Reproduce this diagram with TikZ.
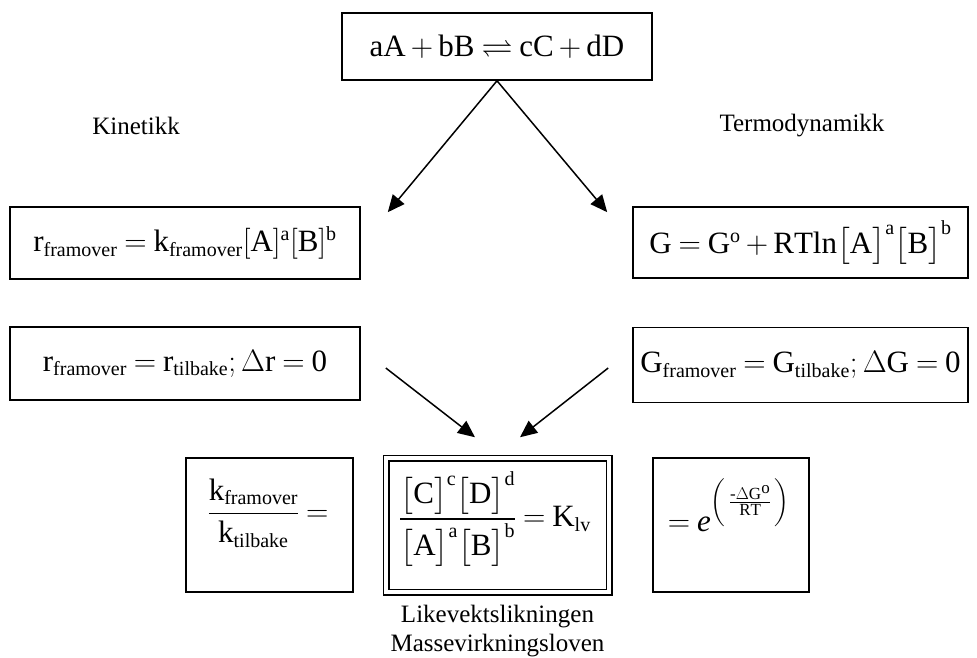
\RequirePackage{fix-cm}
\documentclass[tikz,border=0pt]{standalone}
\usepackage{amsmath,amssymb}
\usepackage{fontspec}
\setmainfont{Liberation Serif}
\usetikzlibrary{arrows.meta,calc}
\DeclareMathSizes{31}{31}{20}{17}
\newcommand\eqfont{\fontsize{31}{37}\selectfont
  \thickmuskip=4mu\relax\medmuskip=3mu\relax}

\begin{document}
\begin{tikzpicture}[x=1pt,y=-1pt,
  eqbox/.style={draw,line width=1.6pt,inner sep=0pt,font=\eqfont},
  eq/.style={inner sep=0pt,font=\eqfont},
  lbl/.style={inner sep=0pt,font=\fontsize{25}{29}\selectfont},
  arr/.style={line width=1.5pt,-{Triangle[length=17pt,width=15pt]}}]
  \useasboundingbox (0,0) rectangle (977,658);

  % reaksjonen
  \node[eqbox,minimum width=310pt,minimum height=67pt] (reaksjon) at (497,46.5)
    {$\mathrm{aA}+\mathrm{bB}\rightleftharpoons\mathrm{cC}+\mathrm{dD}$};
  \node[lbl] (kinetikk) at (136,126) {Kinetikk};
  \node[lbl] (termo) at (802,126) {Termodynamikk};

  % kinetikk
  \node[eqbox,minimum width=350pt,minimum height=72pt] (rate1) at (185,243)
    {$\mathrm{r}_{\mathrm{framover}}=\mathrm{k}_{\mathrm{framover}}[\mathrm{A}]^{\mathrm{a}}[\mathrm{B}]^{\mathrm{b}}$};
  \node[eqbox,minimum width=350pt,minimum height=73pt] (rate2) at (185,363.5)
    {$\mathrm{r}_{\mathrm{framover}}=\mathrm{r}_{\mathrm{tilbake}}\mathrm{;}\,\Delta\mathrm{r}=\mathrm{0}$\hspace{18pt}};

  % termodynamikk
  \node[eqbox,minimum width=335pt,minimum height=71pt] (gibbs1) at (800.5,242.5)
    {$\mathrm{G}=\mathrm{G}^{\mathrm{o}}+\mathrm{RTln}\bigl[\mathrm{A}\bigr]^{\mathrm{a}}\bigl[\mathrm{B}\bigr]^{\mathrm{b}}$};
  \node[eqbox,minimum width=335pt,minimum height=75pt] (gibbs2) at (800.5,365)
    {$\mathrm{G}_{\mathrm{framover}}=\mathrm{G}_{\mathrm{tilbake}}\mathrm{;}\,\Delta\mathrm{G}=\mathrm{0}$};

  % likevekt
  \node[eqbox,minimum width=167pt,minimum height=134pt] (kboks) at (269.5,525) {};
  \node[eq] (kratio) at (268,513)
    {$\dfrac{\mathrm{k}_{\mathrm{framover}}}{\mathrm{k}_{\mathrm{tilbake}}}=$};
  \node[eqbox,double,double distance=4pt,line width=1.5pt,
    minimum width=223pt,minimum height=134pt] (klv) at (497.5,525) {};
  \node[eq] (klvuttrykk) at (495,519)
    {$\dfrac{\bigl[\mathrm{C}\bigr]^{\mathrm{c}}\bigl[\mathrm{D}\bigr]^{\mathrm{d}}}{\bigl[\mathrm{A}\bigr]^{\mathrm{a}}\bigl[\mathrm{B}\bigr]^{\mathrm{b}}}=\mathrm{K}_{\mathrm{lv}}$};
  \node[eqbox,minimum width=156pt,minimum height=134pt] (eboks) at (731,525) {};
  \node[eq] (eksp) at (729,505)
    {$=\mathit{e}^{\left(\,\frac{\text{-}\Delta\mathrm{G}^{\mathrm{o}}}{\mathrm{RT}}\,\rule[-20pt]{0pt}{40pt}\right)}$};
  \node[lbl,align=center] (lovnavn) at (497.5,631)
    {Likevektslikningen\\Massevirkningsloven};

  % piler
  \coordinate (kinpil) at ([shift={(27,6)}]rate1.north east);
  \coordinate (termopil) at ([shift={(-25,6)}]gibbs1.north west);
  \coordinate (kinstart) at ([shift={(25,4.5)}]rate2.east);
  \coordinate (termostart) at ([shift={(-24,3)}]gibbs2.west);
  \coordinate (klvinn1) at ([shift={(-22.5,-20)}]klv.north);
  \coordinate (klvinn2) at ([shift={(22.5,-20)}]klv.north);
  \draw[arr] (reaksjon.south) -- (kinpil);
  \draw[arr] (reaksjon.south) -- (termopil);
  \draw[arr] (kinstart) -- (klvinn1);
  \draw[arr] (termostart) -- (klvinn2);
\end{tikzpicture}
\end{document}
